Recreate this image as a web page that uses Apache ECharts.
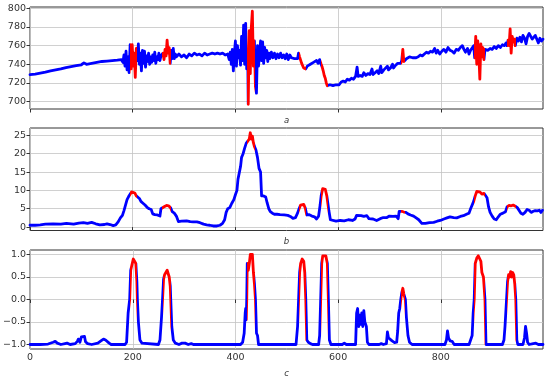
<!DOCTYPE html>
<html><head><meta charset="utf-8">
<script src="https://cdn.jsdelivr.net/npm/echarts@6/dist/echarts.min.js"></script>
<style>html,body{margin:0;padding:0;background:#fff}#c{width:550px;height:379px}</style>
</head><body><div id="c"></div>
<script>
// Red intervals (where signal c > 0)
const redIntervals = [[194,209],[258,274],[422,439],[523,537],[566,581],[722,731],[865,886],[928,946]];
const xTicks = [0,200,400,600,800];
const aTicks = [700,720,740,760,780,800];
const bTicks = [0,5,10,15,20,25];
const cTicks = [-1,-0.5,0,0.5,1];
const panelLabels = ['a','b','c'];

// Series a
const xA = [0,10,20,30,40,50,60,70,80,90,100,105,110,120,130,140,150,160,170,178,181,183,185,187,189,191,193,195,197,199,201,203,205,207,209,211,213,215,217,219,221,223,225,227,229,231,233,235,237,239,241,243,245,247,249,251,253,255,257,259,261,263,265,267,269,271,273,275,277,279,281,283,285,290,295,300,305,310,315,320,325,330,335,340,345,350,355,360,365,370,375,380,385,388,390,392,394,396,398,400,402,404,406,408,410,412,414,416,418,420,422,424,425,427,429,431,433,435,437,439,441,443,445,447,449,451,453,455,457,459,461,463,465,467,470,473,476,479,482,485,488,491,494,497,500,503,506,509,512,515,518,521,523,525,527,529,531,533,535,537,540,543,546,549,552,555,558,561,564,567,569,571,573,575,577,579,581,584,587,590,593,596,599,602,606,610,614,618,622,626,630,634,637,639,643,647,650,654,658,662,666,668,672,676,679,683,685,689,692,696,698,702,706,708,712,716,719,722,724,726,728,730,733,736,739,742,745,748,752,756,760,764,768,772,776,780,784,788,791,794,798,802,806,810,814,818,822,826,830,834,838,842,845,848,852,855,858,861,864,866,868,870,872,874,876,878,880,882,884,886,889,892,896,900,904,908,912,916,920,924,927,929,931,933,935,937,939,941,943,945,948,951,954,957,960,963,966,969,972,975,978,981,984,987,990,993,996,999];
const yA = [729,729.5,730.5,731.5,733,734,735,736.5,737.5,738.5,739.5,741.5,740,741,742,743,743.5,744,744.5,745,742,750,738,754,734,748,731,761,735,761,738,752,726,757,744,762,740,752,733,755,741,754,737,749,743,752,740,748,742,750,744,753,741,748,745,752,744,749,747,752,745,756,749,766,752,758,741,755,746,757,746,751,748,751,748,750,747,751,749,752,750,751,749,752,750,751,752,751,752,751,752,750,751,745,753,740,756,733,752,765,738,760,747,755,739,770,744,782,740,784,735,753,697,776,730,780,797,738,765,716,709,760,738,750,765,744,764,741,758,747,755,743,752,746,753,747,752,746,751,747,752,747,750,746,751,745,750,747,749,746,748,746,752,748,750,741,743,736,737,735,738,737,740,739,742,741,744,741,745,740,737,733,728,725,720,717,716,718,719,717,719,718,720,718,721,722,721,724,723,725,724,727,737,727,728,727,731,728,730,729,735,729,731,733,730,738,731,734,733,738,734,736,740,736,739,741,739,741,744,756,743,745,746,744,748,746,747,746,747,748,750,749,751,753,752,754,753,757,752,755,751,754,756,753,758,755,754,752,756,755,758,760,756,753,757,751,755,753,760,747,770,740,765,751,724,762,748,758,745,756,758,755,757,756,759,757,760,758,761,760,763,760,766,760,778,752,770,764,767,760,768,765,769,764,771,768,762,770,773,775,767,765,771,769,763,768,765,767];

// Series b
const xB = [0,10,20,30,45,60,71,85,95,104,112,120,128,136,145,150,156,162,167,172,176,180,183,186,189,192,195,198,201,204,207,210,213,216,220,224,228,232,236,239,243,248,253,255,258,262,266,270,274,277,281,285,289,295,305,312,318,325,331,338,344,350,357,364,370,375,379,382,385,389,393,397,400,403,405,408,410,412,415,418,421,424,427,429,431,433,435,437,440,443,446,449,451,455,459,462,465,468,472,476,481,487,495,502,507,512,517,521,524,527,530,533,536,539,543,549,554,558,562,565,567,570,572,575,578,580,582,585,588,596,604,612,620,628,633,636,645,650,656,660,668,675,682,688,695,700,707,713,717,719,724,728,732,736,741,747,752,757,763,770,778,786,793,799,806,812,818,825,831,838,844,850,855,858,861,864,867,870,873,876,880,884,887,890,893,896,900,904,908,912,916,921,926,929,933,937,941,945,949,952,956,960,964,968,972,976,980,984,988,992,995,998];
const yB = [0.5,0.5,0.6,0.8,0.9,0.8,1.0,0.8,1.1,1.2,1.0,1.3,0.9,0.6,0.7,0.9,0.7,0.4,0.6,1.5,2.5,3.2,4.5,6.0,7.5,8.3,8.8,9.6,9.9,9.3,8.5,8.0,7.8,7.0,6.5,6.0,5.4,5.0,4.8,3.6,3.4,3.3,3.0,5.0,5.5,5.6,5.9,5.8,5.2,4.2,3.8,3.0,1.5,1.6,1.7,1.5,1.4,1.4,1.2,0.8,0.6,0.5,0.3,0.3,0.5,1.0,2.0,4.0,5.0,5.3,6.5,7.5,8.8,10.0,13.0,13.5,16.5,19.0,20.0,21.5,22.8,23.2,24.0,25.7,24.0,24.8,23.0,22.0,21.0,19.0,16.0,15.0,8.5,8.5,8.2,6.5,5.0,4.2,3.8,3.5,3.5,3.4,3.3,3.2,2.9,2.4,2.6,3.8,5.0,6.0,6.4,6.2,5.2,3.3,3.4,3.0,2.8,2.2,3.0,6.0,8.5,10.5,10.9,10.3,8.5,6.5,4.5,2.0,1.6,1.6,1.8,1.7,2.0,1.8,2.2,3.2,3.1,2.9,3.1,2.3,2.2,1.8,2.3,2.6,2.6,3.0,2.9,3.0,2.3,4.3,4.3,4.1,4.0,3.6,3.3,3.0,2.5,2.0,1.0,1.0,1.2,1.3,1.6,1.8,2.2,2.5,2.8,2.6,2.5,2.9,3.1,3.5,3.8,5.0,5.5,7.0,8.5,9.7,9.9,9.6,9.0,9.2,8.6,8.0,5.5,4.0,3.0,2.2,2.0,2.8,3.5,3.8,4.2,5.5,5.9,5.8,6.0,5.7,5.3,5.0,3.8,3.5,4.0,4.8,4.6,4.0,4.3,4.5,4.4,4.6,4.0,4.6];

// Series c
const xC = [0,20,35,45,49,53,60,68,72,78,88,92,94,97,100,103,106,108,112,120,132,138,143,147,150,154,158,185,188,191,194,196,198,201,204,206,208,209,211,214,218,221,250,253,256,258,260,262,265,267,269,271,273,274,276,279,283,290,296,302,308,314,318,410,414,417,419,420,421,422,423,425,427,429,431,433,435,437,439,441,443,445,518,521,523,525,527,530,533,535,537,539,542,546,550,562,564,566,568,570,573,576,579,581,583,586,608,612,616,634,636,638,640,642,644,646,648,650,652,655,657,660,680,684,688,694,696,698,701,705,710,714,716,718,720,722,724,726,728,731,733,736,739,744,808,811,813,815,818,822,826,855,858,861,863,865,867,870,873,876,878,880,883,886,888,920,923,925,928,930,932,934,936,938,940,942,944,946,948,950,960,963,965,967,969,972,980,985,990,999];
const yC = [-1,-1,-0.99,-0.95,-0.93,-0.97,-1,-0.98,-0.97,-1,-0.98,-0.93,-0.88,-0.95,-0.83,-0.8,-0.82,-0.94,-0.98,-1,-0.97,-0.92,-0.88,-0.9,-0.88,-0.97,-1,-1,-0.95,-0.3,0,0.65,0.75,0.9,0.88,0.8,0.4,0,-0.5,-0.9,-0.97,-1,-1,-0.9,-0.4,0,0.45,0.55,0.58,0.65,0.62,0.5,0.3,0,-0.6,-0.9,-0.97,-1,-0.97,-0.97,-1,-0.98,-1,-1,-0.95,-0.75,-0.3,-0.2,-0.45,0,0.8,0.65,0.8,1.0,0.98,1.0,0.6,0.35,0,-0.75,-0.8,-1,-1,-0.6,0,0.6,0.8,0.9,0.85,0.6,0,-0.9,-0.95,-0.98,-1,-1,-0.8,0,0.8,0.97,1.0,0.97,0.8,0,-0.9,-1,-1,-0.97,-1,-1,-0.3,-0.2,-0.6,-0.35,-0.55,-0.3,-0.6,-0.25,-0.5,-0.6,-0.95,-1,-1,-0.98,-1,-0.98,-0.72,-0.85,-0.88,-0.92,-0.96,-0.95,-0.7,-0.3,-0.2,0,0.15,0.25,0.12,0,-0.4,-0.8,-0.95,-1,-1,-0.9,-0.7,-0.85,-0.92,-0.93,-1,-1,-0.9,-0.8,-0.3,0,0.8,0.92,0.97,0.93,0.85,0.6,0.5,0,-1,-1,-0.9,-0.6,0,0.4,0.55,0.5,0.62,0.5,0.6,0.55,0.35,0,-0.9,-1,-1,-0.85,-0.6,-0.75,-0.95,-1,-0.98,-0.97,-1,-1];

const BLUE = '#0000ff', RED = '#ff0000';
const zip = (xs, ys) => xs.map((x, i) => [x, ys[i]]);

function intervalPieces() {
  const p = [];
  let prev = -100;
  redIntervals.forEach(([a, b]) => {
    p.push({ gte: prev, lt: a, color: BLUE });
    p.push({ gte: a, lt: b, color: RED });
    prev = b;
  });
  p.push({ gte: prev, lte: 2000, color: BLUE });
  return p;
}

const grids = [
  { left: 30, right: 7, top: 7, height: 102 },
  { left: 30, right: 7, top: 128, height: 102.5 },
  { left: 30, right: 7, top: 250, height: 100 }
];
grids.forEach(g => { g.show = true; g.borderColor = '#333'; g.borderWidth = 1; g.backgroundColor = 'transparent'; });

const font = { fontFamily: 'DejaVu Sans', fontSize: 9.5, color: '#333' };

function xAxis(i) {
  return {
    type: 'value', gridIndex: i, min: 0, max: 999,
    name: panelLabels[i], nameLocation: 'middle', nameGap: i === 2 ? 20 : 7,
    nameTextStyle: { fontFamily: 'DejaVu Sans', fontSize: 8.5, fontStyle: 'italic', color: '#333' },
    axisLine: { show: false },
    axisTick: { show: true, length: 3.5, lineStyle: { color: '#333' }, customValues: xTicks },
    axisLabel: { show: i === 2, customValues: xTicks, ...font, margin: 4 },
    splitLine: { show: true, lineStyle: { color: '#c4c4c4', width: 0.8 } }
  };
}
function yAxis(i, min, max, ticks, fmt) {
  return {
    type: 'value', gridIndex: i, min: min, max: max,
    axisLine: { show: false },
    axisTick: { show: true, length: 3.5, lineStyle: { color: '#333' }, customValues: ticks },
    axisLabel: { customValues: ticks, formatter: fmt, ...font, margin: 4 },
    splitLine: { show: true, lineStyle: { color: '#c4c4c4', width: 0.8 } }
  };
}

const lineSeries = (i, data) => ({
  type: 'line', xAxisIndex: i, yAxisIndex: i, data: data,
  showSymbol: false, symbol: 'none', animation: false,
  lineStyle: { width: 2.8, join: 'round', cap: 'round' }
});

const chart = echarts.init(document.getElementById('c'), null, { renderer: 'canvas' });
chart.setOption({
  animation: false,
  grid: grids,
  xAxis: [xAxis(0), xAxis(1), xAxis(2)],
  yAxis: [
    yAxis(0, 692, 801.5, aTicks, v => String(Math.round(v))),
    yAxis(1, -0.93, 27, bTicks, v => String(Math.round(v))),
    yAxis(2, -1.1, 1.1, cTicks, v => (+v).toFixed(1).replace('-', '\u2212'))
  ],
  visualMap: [
    { show: false, type: 'piecewise', seriesIndex: 0, dimension: 0, pieces: intervalPieces() },
    { show: false, type: 'piecewise', seriesIndex: 1, dimension: 0, pieces: intervalPieces() },
    { show: false, type: 'piecewise', seriesIndex: 2, dimension: 0, pieces: intervalPieces() }
  ],
  series: [lineSeries(0, zip(xA, yA)), lineSeries(1, zip(xB, yB)), lineSeries(2, zip(xC, yC))]
});
</script></body></html>
